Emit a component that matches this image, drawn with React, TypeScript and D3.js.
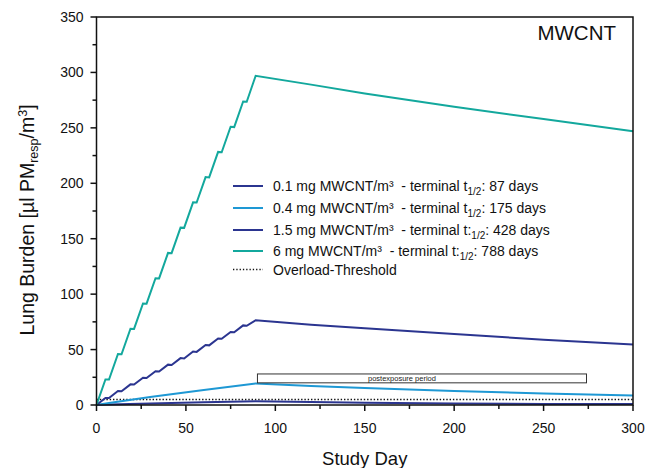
import React from "react";
import * as d3 from "d3";

// ---- data ----
const stairDays = [0, 5, 7, 12, 14, 19, 21, 26, 28, 33, 35, 40, 42, 47, 49, 54, 56, 61, 63, 68, 70, 75, 77, 82, 84, 89, 120, 150, 200, 250, 300];
const burden6 = [0, 23, 23, 46, 45.8, 68.8, 68.6, 91.6, 91.4, 114.4, 114.2, 137.2, 137, 160, 159.8, 182.8, 182.6, 205.6, 205.3, 228.3, 228, 251, 250.7, 273.8, 273.5, 297, 289, 281, 269, 258, 247];
const burden15 = [0, 6.4, 6.3, 12.6, 12.4, 18.6, 18.4, 24.6, 24.3, 30.5, 30.2, 36.4, 36.1, 42.3, 42, 48.2, 47.9, 54.1, 53.8, 60, 59.7, 65.9, 65.6, 71.8, 71.5, 76.5, 72.5, 69.3, 64, 58.9, 54.5];
const smoothDays = [0, 7, 30, 60, 89, 120, 150, 200, 250, 300];
const burden04 = [0, 1.8, 7.2, 13.6, 19.5, 17.2, 15.3, 12.6, 10.3, 8.5];
const burden01 = [0, 0.4, 1.3, 2.4, 3.4, 2.6, 2.1, 1.4, 1.0, 0.8];
const overloadThreshold = 5;

const xTicks = [0, 50, 100, 150, 200, 250, 300];
const yTicks = [0, 50, 100, 150, 200, 250, 300, 350];
const xMinor = [25, 75, 125, 175, 225, 275];
const yMinor = [25, 75, 125, 175, 225, 275, 325];

const postexposureStart = 90;
const postexposureEnd = 274;
const postexposureLow = 20;
const postexposureHigh = 28;

const seriesLabels = ["0.1 mg MWCNT/m³  - terminal t", "0.4 mg MWCNT/m³  - terminal t", "1.5 mg MWCNT/m³  - terminal t:", "6 mg MWCNT/m³  - terminal t:"];
const seriesHalfLives = [": 87 days", ": 175 days", ": 428 days", ": 788 days"];

const C_NAVY = "#2b3590";
const C_LIGHT = "#1e98d4";
const C_TEAL = "#13a89d";

export default function App() {
  const W = 651, H = 468;
  const L = 96.5, R = 633, T = 17, B = 405;
  const x = d3.scaleLinear().domain([0, 300]).range([L, R]);
  const y = d3.scaleLinear().domain([0, 350]).range([B, T]);
  const font = "'Liberation Sans', Arial, Helvetica, sans-serif";

  const line = d3.line<[number, number]>().x((d) => x(d[0])).y((d) => y(d[1]));
  const mk = (days: number[], vals: number[]) => line(days.map((d, i) => [d, vals[i]] as [number, number])) || "";

  const series = [
    { path: mk(smoothDays, burden01), color: C_NAVY },
    { path: mk(smoothDays, burden04), color: C_LIGHT },
    { path: mk(stairDays, burden15), color: C_NAVY },
    { path: mk(stairDays, burden6), color: C_TEAL },
  ];

  const legendX1 = 233, legendX2 = 263, legendTX = 273;
  const legendY = [186, 208, 230, 251];

  return (
    <svg width={W} height={H} style={{ position: "absolute", left: 0, top: 0, background: "#fff" }} fontFamily={font}>
      <rect x={0} y={0} width={W} height={H} fill="#fff" />
      {/* threshold */}
      <line x1={x(0)} x2={x(300)} y1={y(overloadThreshold)} y2={y(overloadThreshold)} stroke="#111" strokeWidth={1.4} strokeDasharray="1.4 1.9" />
      {/* series */}
      {series.map((s, i) => (
        <path key={i} d={s.path} fill="none" stroke={s.color} strokeWidth={2} strokeLinejoin="miter" />
      ))}
      {/* postexposure box */}
      <rect x={x(postexposureStart)} y={y(postexposureHigh)} width={x(postexposureEnd) - x(postexposureStart)} height={y(postexposureLow) - y(postexposureHigh)} fill="#fff" stroke="#333" strokeWidth={1} />
      <text x={368} y={y((postexposureLow + postexposureHigh) / 2) + 2.5} fontSize={7.5} fill="#222">postexposure period</text>
      {/* frame */}
      <rect x={L} y={T} width={R - L} height={B - T} fill="none" stroke="#111" strokeWidth={1.5} />
      {/* x ticks */}
      {xTicks.map((t) => (
        <g key={"x" + t}>
          <line x1={x(t)} x2={x(t)} y1={B} y2={B + 6} stroke="#111" strokeWidth={1.5} />
          <text x={x(t)} y={B + 28} fontSize={14} textAnchor="middle" fill="#111">{t}</text>
        </g>
      ))}
      {xMinor.map((t) => (
        <line key={"xm" + t} x1={x(t)} x2={x(t)} y1={B} y2={B + 4} stroke="#111" strokeWidth={1.5} />
      ))}
      {yTicks.map((t) => (
        <g key={"y" + t}>
          <line x1={L - 6} x2={L} y1={y(t)} y2={y(t)} stroke="#111" strokeWidth={1.5} />
          <text x={L - 13} y={y(t) + 5} fontSize={14} textAnchor="end" fill="#111">{t}</text>
        </g>
      ))}
      {yMinor.map((t) => (
        <line key={"ym" + t} x1={L - 4} x2={L} y1={y(t)} y2={y(t)} stroke="#111" strokeWidth={1.5} />
      ))}
      {/* axis titles */}
      <text x={(L + R) / 2} y={465} fontSize={18.5} textAnchor="middle" fill="#111">Study Day</text>
      <text transform={`translate(34, ${(T + B) / 2 + 9}) rotate(-90)`} fontSize={19.5} textAnchor="middle" fill="#111">
        Lung Burden [µl PM<tspan fontSize={12.5} dy={4}>resp</tspan><tspan dy={-4}>/m</tspan><tspan fontSize={12.5} dy={-7}>3</tspan><tspan dy={7}>]</tspan>
      </text>
      <text x={616} y={40} fontSize={20.5} textAnchor="end" fill="#111">MWCNT</text>
      {/* legend */}
      {series.map((s, i) => (
        <g key={"lg" + i}>
          <line x1={legendX1} x2={legendX2} y1={legendY[i]} y2={legendY[i]} stroke={s.color} strokeWidth={2} />
          <text x={legendTX} y={legendY[i] + 5} fontSize={14} fill="#111" style={{ whiteSpace: "pre" }}>
            {seriesLabels[i]}<tspan fontSize={10} dy={4}>1/2</tspan><tspan dy={-4}>{seriesHalfLives[i]}</tspan>
          </text>
        </g>
      ))}
      <line x1={legendX1} x2={legendX2} y1={269.5} y2={269.5} stroke="#111" strokeWidth={1.3} strokeDasharray="1.3 2" />
      <text x={legendTX} y={274.5} fontSize={14} fill="#111">Overload-Threshold</text>
    </svg>
  );
}
